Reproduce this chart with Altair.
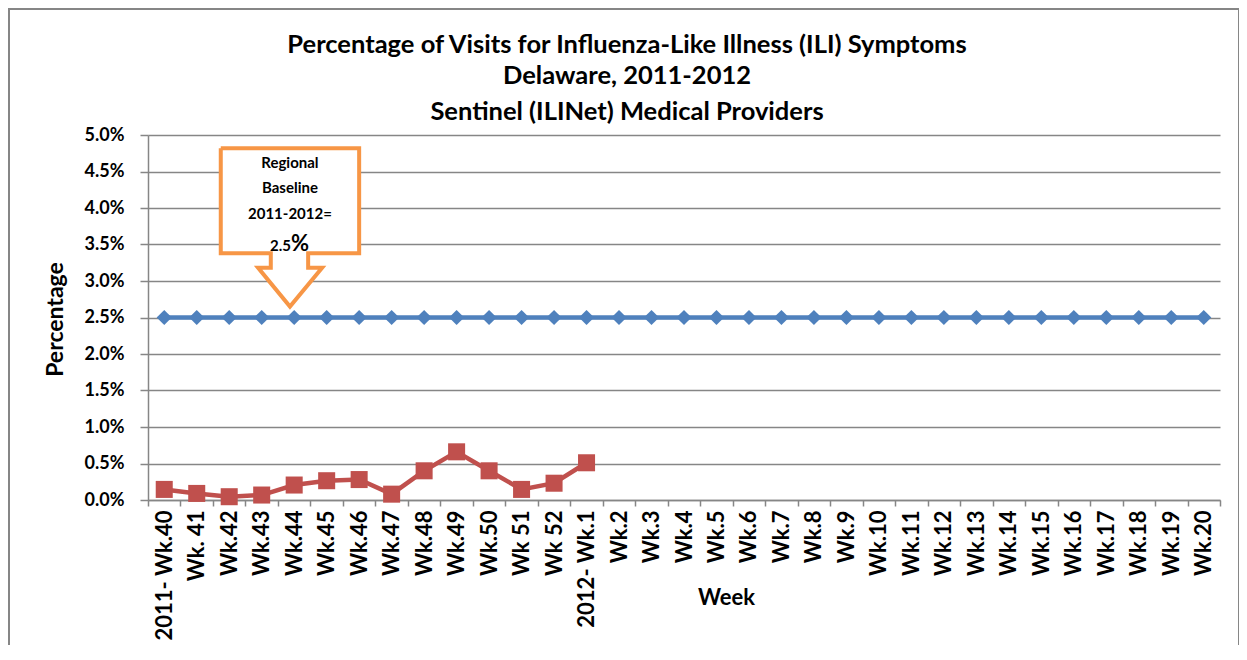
import altair as alt
import pandas as pd

weeks = ["2011- Wk.40", "Wk. 41", "Wk.42", "Wk.43", "Wk.44", "Wk.45", "Wk.46",
         "Wk.47", "Wk.48", "Wk.49", "Wk.50", "Wk 51", "Wk 52", "2012- Wk.1",
         "Wk.2", "Wk.3", "Wk.4", "Wk.5", "Wk.6", "Wk.7", "Wk.8", "Wk.9",
         "Wk.10", "Wk.11", "Wk.12", "Wk.13", "Wk.14", "Wk.15", "Wk.16",
         "Wk.17", "Wk.18", "Wk.19", "Wk.20"]
baseline = [0.025, 0.025, 0.025, 0.025, 0.025, 0.025, 0.025, 0.025, 0.025,
            0.025, 0.025, 0.025, 0.025, 0.025, 0.025, 0.025, 0.025, 0.025,
            0.025, 0.025, 0.025, 0.025, 0.025, 0.025, 0.025, 0.025, 0.025,
            0.025, 0.025, 0.025, 0.025, 0.025, 0.025]
ili_weeks = weeks[:14]
ili = [0.00145, 0.0009, 0.00045, 0.00068, 0.00205, 0.00264, 0.0028,
       0.0008, 0.0040, 0.0066, 0.0040, 0.00145, 0.0023, 0.0051]

title_lines = ["Percentage of Visits for Influenza-Like Illness (ILI) Symptoms",
               "Delaware, 2011-2012",
               "Sentinel (ILINet) Medical Providers"]
y_ticks = [0.0, 0.005, 0.01, 0.015, 0.02, 0.025, 0.03, 0.035, 0.04, 0.045, 0.05]

# callout outline (x in category units, y in fraction units)
callout_x = [2.24, 6.50, 6.50, 4.93, 4.93, 5.36, 4.37, 3.39, 3.78, 3.78, 2.24, 2.24]
callout_y = [0.0482, 0.0482, 0.0338, 0.0338, 0.0318, 0.0318, 0.0265, 0.0318,
             0.0318, 0.0338, 0.0338, 0.0482]
callout_lines = ["Regional", "Baseline", "2011-2012="]
callout_line_y = [0.0462, 0.0427, 0.0392]

FONT = "Lato"
BLUE = "#4F81BD"
RED = "#C0504D"
ORANGE = "#F79646"
GRAY = "#868686"

base_df = pd.DataFrame({"week": weeks, "value": baseline})
ili_df = pd.DataFrame({"week": ili_weeks, "value": ili})

xenc = alt.X("week:N", sort=weeks,
             scale=alt.Scale(type="band", paddingInner=0, paddingOuter=0),
             axis=alt.Axis(title="Week", tickBand="extent", labelAngle=-90,
                           labelFont=FONT, labelFontWeight="bold", labelFontSize=22,
                           labelColor="black", labelPadding=4, tickSize=6,
                           labelOverlap=False,
                           titleFont=FONT, titleFontWeight="bold", titleFontSize=22,
                           titleColor="black", titleX=578, titleY=97,
                           titleBaseline="middle", grid=False))
yaxis = alt.Axis(title="Percentage", values=y_ticks, format=".1%",
                 labelOverlap=False,
                 labelFont=FONT, labelFontWeight="bold", labelFontSize=18,
                 labelColor="black", labelPadding=16, tickSize=8,
                 titleFont=FONT, titleFontWeight="bold", titleFontSize=23,
                 titleColor="black", titleX=-93, titleY=184,
                 titleBaseline="middle", grid=True)
yscale = alt.Scale(domain=[0, 0.05], nice=False)
yenc = alt.Y("value:Q", scale=yscale, axis=yaxis)

base_line = alt.Chart(base_df).mark_line(color=BLUE, strokeWidth=4.5).encode(x=xenc, y=yenc)
base_pts = alt.Chart(base_df).mark_point(shape="diamond", filled=True, opacity=1,
                                          color=BLUE, size=230).encode(x=xenc, y=yenc)
ili_line = alt.Chart(ili_df).mark_line(color=RED, strokeWidth=4.5).encode(x=xenc, y=yenc)
ili_pts = alt.Chart(ili_df).mark_point(shape="square", filled=True, opacity=1,
                                       color=RED, size=290).encode(x=xenc, y=yenc)

qx = alt.Scale(domain=[0, len(weeks)], nice=False, zero=False)
callout_df = pd.DataFrame({"cx": callout_x, "value": callout_y,
                           "i": list(range(len(callout_x)))})
callout = alt.Chart(callout_df).mark_line(fill="white", stroke=ORANGE, strokeWidth=4,
                                          strokeJoin="miter").encode(
    x=alt.X("cx:Q", scale=qx, axis=None),
    y=yenc,
    order=alt.Order("i:Q"))
ct_df = pd.DataFrame({"t": callout_lines, "value": callout_line_y, "cx": [4.37] * 3})
callout_text = alt.Chart(ct_df).mark_text(font=FONT, fontWeight="bold", fontSize=15,
                                          color="black", baseline="middle").encode(
    x=alt.X("cx:Q", scale=qx, axis=None), y=yenc, text="t:N")
pct_a = alt.Chart(pd.DataFrame({"t": ["2.5"], "cx": [4.40], "value": [0.0350]})).mark_text(
    font=FONT, fontWeight="bold", fontSize=15, color="black", align="right",
    baseline="alphabetic", dy=6).encode(
    x=alt.X("cx:Q", scale=qx, axis=None), y=yenc, text="t:N")
pct_b = alt.Chart(pd.DataFrame({"t": ["%"], "cx": [4.40], "value": [0.0350]})).mark_text(
    font=FONT, fontWeight="bold", fontSize=22, color="black", align="left",
    baseline="alphabetic", dy=6).encode(
    x=alt.X("cx:Q", scale=qx, axis=None), y=yenc, text="t:N")

one = pd.DataFrame({"a": [0]})
title_layers = []
for line, yy in zip(title_lines, [-90, -59, -23]):
    title_layers.append(
        alt.Chart(pd.DataFrame({"t": [line]})).mark_text(
            font=FONT, fontWeight="bold", fontSize=25.5, color="black",
            align="center", baseline="middle").encode(
            text="t:N", x=alt.value(479), y=alt.value(yy)))

border = alt.Chart(one).mark_rect(fill="transparent", stroke=GRAY, strokeWidth=2).encode(
    x=alt.value(-139), x2=alt.value(1091), y=alt.value(-126), y2=alt.value(540))

main = alt.layer(base_line, base_pts, ili_line, ili_pts)
ann = alt.layer(callout, callout_text, pct_a, pct_b)

chart = alt.layer(main, ann, *title_layers, border).resolve_scale(x="independent").properties(
    width=1072, height=365,
    autosize=alt.AutoSizeParams(type="none"),
    padding={"left": 140, "top": 127, "right": 19, "bottom": 145},
).configure_view(stroke=None).configure_axis(
    domainColor=GRAY, gridColor=GRAY, tickColor=GRAY,
    domainWidth=1.5, gridWidth=1.5, tickWidth=1.5)

chart.save("out.html", embed_options={"renderer": "svg", "actions": False})
